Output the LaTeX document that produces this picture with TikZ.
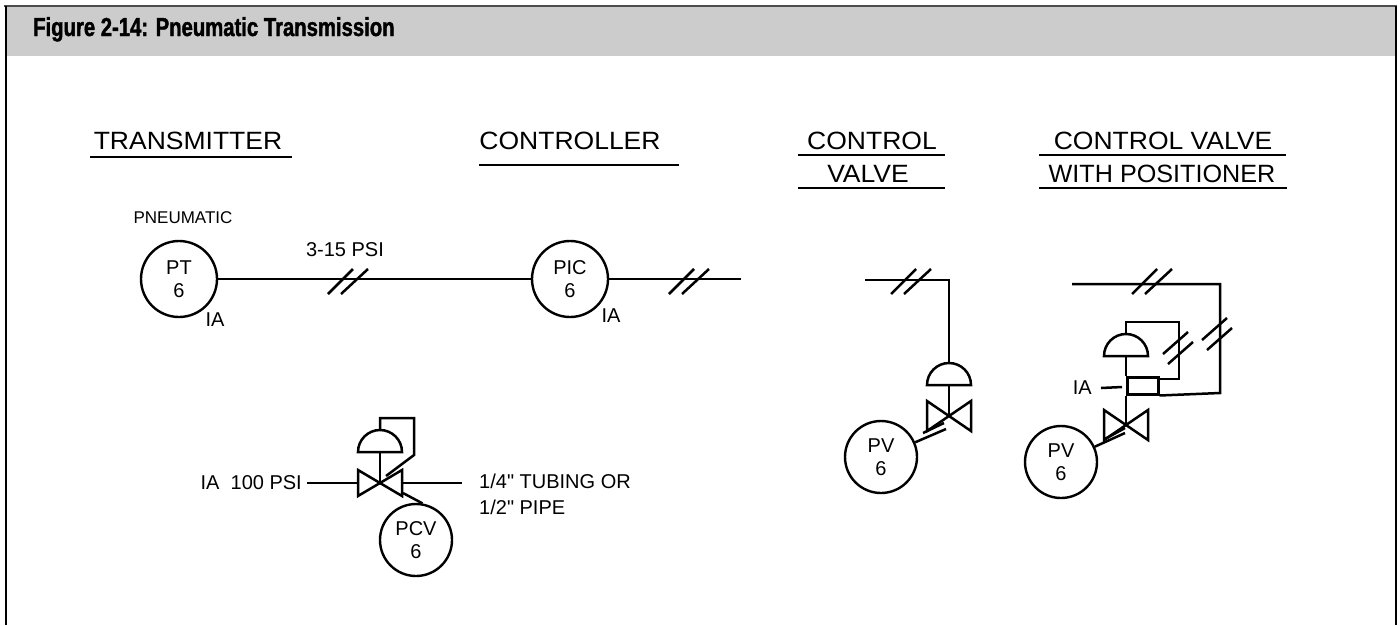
\documentclass[tikz,border=0pt]{standalone}
\usepackage{fontspec}
\setmainfont{Liberation Sans}
\newfontfamily\hdrfont[FakeStretch=1.06]{Liberation Sans}
\newfontfamily\ttlfont[FakeStretch=0.78, BoldFeatures={FakeBold=1.5}]{Liberation Sans}
\newcommand\lblsize{\fontsize{20}{23}\selectfont}
\definecolor{band}{HTML}{CCCCCC}
\definecolor{edge}{HTML}{4D4D4D}
\begin{document}
\begin{tikzpicture}[x=1pt,y=-1pt,
  ln/.style={line width=2.5pt, line cap=butt, line join=miter},
  inst/.style={draw, circle, line width=2.4pt, minimum size=72pt, inner sep=0pt, align=center, font=\lblsize},
  lbl/.style={font=\lblsize, inner sep=0pt},
  hdr/.style={font=\hdrfont\fontsize{25}{28}\selectfont, inner sep=0pt, anchor=base},
  uline/.style={line width=2.6pt},
  dslashh/.pic={\draw[ln] (-20,13) -- (5,-12); \draw[ln] (-7,13) -- (20,-12);},
  dslashv/.pic={\draw[ln] (-15,6) -- (10,-16); \draw[ln] (-10,16) -- (15,-6);}
]
\useasboundingbox (0,0) rectangle (1400,625);
% frame and title band
\fill[band] (5,7) rectangle (1396,56);
\draw[edge, line width=2pt] (4,6) -- (1397,6);
\draw[black, line width=2pt] (5.5,6) -- (5.5,625);
\draw[black, line width=2pt] (1396,6) -- (1396,625);
\node[anchor=base west, inner sep=0pt, font=\ttlfont\bfseries\fontsize{26}{28}\selectfont] (title) at (33,36) {Figure 2-14: Pneumatic Transmission};

% headers
\node[hdr] (h1) at (188,149) {TRANSMITTER};
\draw[uline] (90,157) -- (292,157);
\node[hdr] (h2) at (570,149) {CONTROLLER};
\draw[uline] (479,165) -- (679,165);
\node[hdr] (h3) at (872,149) {CONTROL};
\draw[uline] (798,155) -- (945,155);
\node[hdr] (h4) at (868,182) {VALVE};
\draw[uline] (798,188) -- (945,188);
\node[hdr] (h5) at (1163,149) {CONTROL VALVE};
\draw[uline] (1039,155) -- (1286,155);
\node[hdr, xscale=0.95, transform shape] (h6) at (1162,182) {WITH POSITIONER};
\draw[uline] (1039,188) -- (1287,188);

% section 1: transmitter and controller
\node[lbl, font=\fontsize{17}{19}\selectfont] (pn) at (183,218) {PNEUMATIC};
\node[inst, minimum size=76pt] (PT) at (179,279) {PT\\6};
\node[inst, minimum size=76pt] (PIC) at (570,279) {PIC\\6};
\coordinate (e1) at (741,279);
\draw[ln] (PT) -- (PIC);
\draw[ln] (PIC) -- (e1);
\pic at (348,281) {dslashh};
\pic at (689,281) {dslashh};
\node[lbl] (ptia) at (215,320) {IA};
\node[lbl] (picia) at (611,316) {IA};
\node[lbl] (psi) at (345,250) {3-15 PSI};

% section 2: self-regulating valve PCV
\coordinate (v1) at (380,483);
\coordinate (v1l) at (358,483);
\coordinate (v1r) at (402,483);
\coordinate (e2) at (462,483);
\node[lbl, anchor=east] (ia100) at (302,483) {IA\ \ 100 PSI};
\draw[ln] ([xshift=5pt]ia100.east) -- (v1l);
\draw[ln] (v1r) -- (e2);
\node[lbl, anchor=north west, align=left, font=\fontsize{20}{26}\selectfont] (tub) at (479,474) {1/4\textquotedbl{} TUBING OR\\1/2\textquotedbl{} PIPE};
\draw[ln] (358,470) -- (358,496) -- (v1) -- cycle;
\draw[ln] (402,470) -- (402,496) -- (v1) -- cycle;
\draw[ln] (358,452) arc[start angle=180, end angle=360, radius=22] -- cycle;
\draw[ln] (380,452) -- (v1);
\draw[ln] (380,430) -- (380,418) -- (414,418) -- (414,455) -- (386,476);
\node[inst] (PCV) at (416,540) {PCV\\6};
\draw[ln] (403,493) -- (PCV.80);

% section 3: control valve
\coordinate (s3a) at (865,280);
\coordinate (s3c) at (949,280);
\coordinate (s3d) at (949,363);
\coordinate (v2) at (949,416);
\draw[ln] (s3a) -- (s3c) -- (s3d);
\pic at (911,281) {dslashh};
\draw[ln] (927,385) arc[start angle=180, end angle=360, radius=22] -- cycle;
\draw[ln] (949,385) -- (v2);
\draw[ln] (927,401) -- (927,431) -- (v2) -- cycle;
\draw[ln] (971,401) -- (971,431) -- (v2) -- cycle;
\node[inst] (PV1) at (881,457) {PV\\6};
\coordinate (k1) at (946,429);
\draw[ln] (PV1) -- (k1);
\draw[ln] (923,433) -- (944,423);

% section 4: control valve with positioner
\coordinate (s4a) at (1072,284);
\coordinate (s4b) at (1220,284);
\coordinate (s4c) at (1220,393);
\coordinate (v3) at (1126,425);
\node[draw, line width=2.5pt, minimum width=31pt, minimum height=17pt, inner sep=0pt, anchor=north west] (POS) at (1126,376) {};
\draw[ln] (s4a) -- (s4b) -- (s4c) -- (POS.south east);
\draw[ln] ([yshift=-3pt]POS.north east) -- (1179,379) -- (1179,322) -- (1126,322) -- (1126,334);
\draw[ln] (1104,356) arc[start angle=180, end angle=360, radius=22] -- cycle;
\draw[ln] (1126,356) -- (POS.north west);
\draw[ln] (POS.south west) -- (v3);
\node[lbl, anchor=east] (ia4) at (1092,388) {IA};
\coordinate (iaend) at (1122,387);
\draw[ln] ([xshift=9pt]ia4.east) -- (iaend);
\pic at (1152,281) {dslashh};
\pic at (1217,334) {dslashv};
\pic at (1178,348) {dslashv};
\draw[ln] (1104,410) -- (1104,440) -- (v3) -- cycle;
\draw[ln] (1148,410) -- (1148,440) -- (v3) -- cycle;
\node[inst] (PV2) at (1061,462) {PV\\6};
\coordinate (k2) at (1125,433);
\draw[ln] (PV2) -- (k2);
\draw[ln] (1105,439) -- (1125,428);
\end{tikzpicture}
\end{document}
